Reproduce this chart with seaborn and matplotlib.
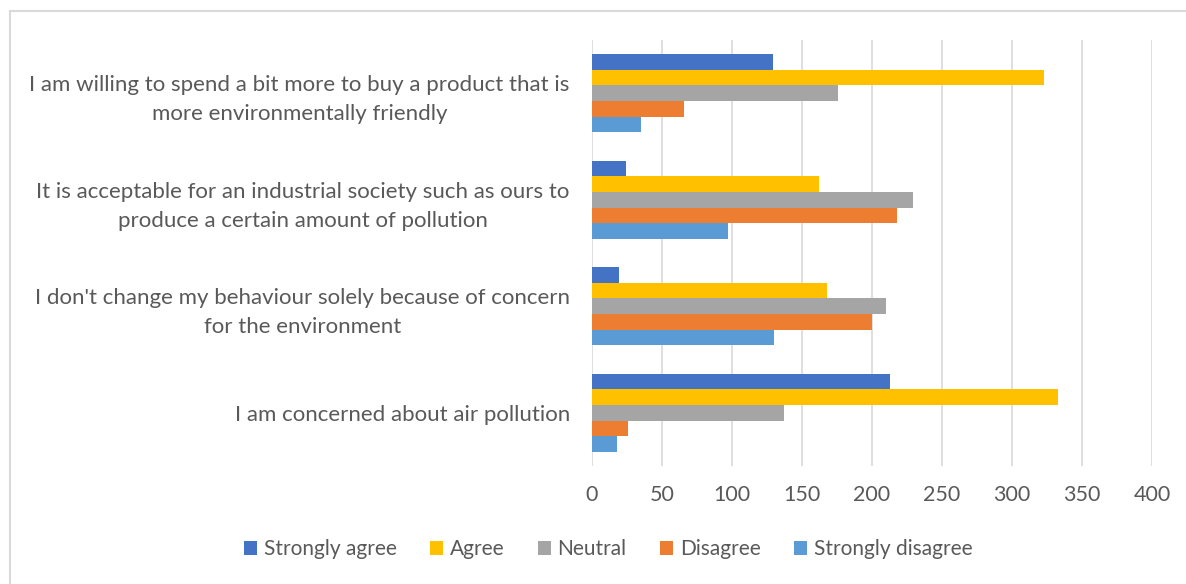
import matplotlib
matplotlib.use("Agg")
import matplotlib.pyplot as plt
from matplotlib.patches import Rectangle, Patch
import seaborn as sns
import pandas as pd

statements = [
    "I am willing to spend a bit more to buy a product that is\nmore environmentally friendly",
    "It is acceptable for an industrial society such as ours to\nproduce a certain amount of pollution",
    "I don't change my behaviour solely because of concern\nfor the environment",
    "I am concerned about air pollution",
]
responses = ["Strongly agree", "Agree", "Neutral", "Disagree", "Strongly disagree"]

strongly_agree = [129, 24, 19, 213]
agree = [323, 162, 168, 333]
neutral = [176, 229, 210, 137]
disagree = [66, 218, 200, 26]
strongly_disagree = [35, 97, 130, 18]

colors = ["#4472C4", "#FFC000", "#A5A5A5", "#ED7D31", "#5B9BD5"]
x_ticks = [0, 50, 100, 150, 200, 250, 300, 350, 400]

series = [strongly_agree, agree, neutral, disagree, strongly_disagree]
rows = []
for resp, vals in zip(responses, series):
    for stmt, v in zip(statements, vals):
        rows.append({"statement": stmt, "response": resp, "count": v})
df = pd.DataFrame(rows)

sns.set_theme(style="white")
plt.rcParams["font.family"] = ["Lato", "DejaVu Sans"]
text_color = "#595959"
grid_color = "#D9D9D9"

W, H = 1186, 584
fig = plt.figure(figsize=(W / 100, H / 100), dpi=100)
fig.patch.set_facecolor("white")

# outer chart frame
fig.patches.append(Rectangle((10 / W, -0.1), 1.2, 1 - 11 / H + 0.1,
                             transform=fig.transFigure, fill=False,
                             edgecolor=grid_color, linewidth=1.5))

ax = fig.add_axes([592 / W, 1 - 466 / H, (1152 - 592) / W, (466 - 40) / H])
sns.barplot(data=df, y="statement", x="count", hue="response",
            order=statements, hue_order=responses, palette=colors,
            orient="h", width=0.73, gap=0, saturation=1, legend=False,
            linewidth=0, ax=ax)

ax.set_xlim(0, 400)
ax.set_ylim(3.5, -0.5)
ax.set_xticks(x_ticks)
ax.set_xticklabels([str(t) for t in x_ticks])
ax.grid(axis="x", color=grid_color, linewidth=1.2)
ax.set_axisbelow(True)
for s in ax.spines.values():
    s.set_visible(False)
ax.set_xlabel("")
ax.set_ylabel("")
ax.tick_params(axis="x", length=0, pad=14, labelsize=15.5, labelcolor=text_color)
ax.tick_params(axis="y", length=0, pad=16, labelsize=16, labelcolor=text_color)
for lbl in ax.get_yticklabels():
    lbl.set_multialignment("center")
    lbl.set_linespacing(1.55)

handles = [Patch(facecolor=c, edgecolor="none") for c in colors]
fig.legend(handles, responses, loc="center", bbox_to_anchor=(608 / W, 1 - 549 / H),
           ncol=5, frameon=False, fontsize=15, labelcolor=text_color,
           handlelength=0.65, handleheight=0.65, handletextpad=0.3, columnspacing=1.6)

fig.savefig("out.png", dpi=100)
